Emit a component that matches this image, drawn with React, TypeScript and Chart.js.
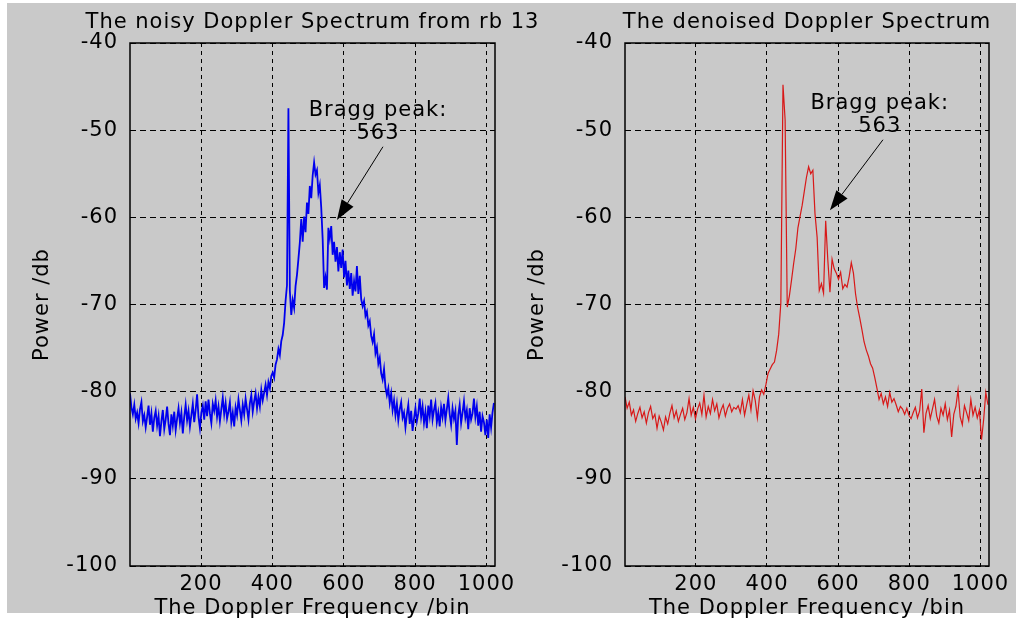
import { useEffect, useRef } from "react";
import { Chart, registerables } from "chart.js";

Chart.register(...registerables);

// Spectrum values in dB. The noisy spectrum is sampled every 4 bins, the denoised one every 6 bins.
const noisyBinStep = 4;
const noisyPower = [
  -80.2, -81.8, -82.6, -81.5, -83.1, -82.4, -83.6, -82.0, -81.2, -83.4,
  -82.7, -84.1, -82.9, -81.6, -83.8, -82.5, -84.6, -83.0, -82.2, -83.9,
  -82.8, -85.1, -83.4, -82.1, -84.3, -83.2, -81.7, -83.7, -85.0, -82.6,
  -83.9, -82.3, -84.4, -83.1, -81.9, -83.6, -82.4, -84.8, -82.9, -81.5,
  -83.3, -82.2, -84.0, -82.7, -81.4, -83.5, -82.1, -80.3, -82.9, -84.2,
  -82.4, -81.6, -83.2, -81.1, -82.8, -80.9, -82.5, -83.6, -81.4, -82.2,
  -81.0, -82.9, -81.7, -83.4, -82.0, -80.7, -82.6, -81.3, -83.1, -82.3,
  -81.2, -83.5, -82.4, -84.0, -81.8, -82.7, -80.9, -82.1, -83.3, -81.5,
  -82.6, -80.8, -82.0, -83.2, -81.3, -80.4, -82.3, -81.1, -80.2, -81.9,
  -80.6, -81.7, -79.8, -81.0, -80.1, -79.2, -80.4, -78.9, -79.6, -78.2,
  -77.8, -78.4, -76.9, -76.3, -75.1, -75.8, -74.2, -73.5, -72.1, -69.6,
  -67.8, -47.5, -68.4, -71.2, -69.5, -70.4, -67.9, -66.6, -64.8, -62.9,
  -60.2, -62.8, -59.9, -61.7, -58.3, -59.6, -56.4, -57.8, -55.2, -53.7,
  -55.1, -54.6, -57.2, -56.3, -58.9, -62.5, -68.1, -66.9, -68.3, -61.2,
  -62.4, -61.0, -64.3, -62.8, -65.1, -63.4, -66.2, -64.0, -65.8, -63.7,
  -66.9, -65.0, -67.8, -66.1, -68.2, -66.4, -69.0, -67.3, -68.5, -65.6,
  -68.8, -66.7, -69.4, -70.2, -69.6, -71.3, -70.8, -72.4, -71.9, -73.6,
  -74.3, -73.4, -75.6, -74.9, -76.8, -76.1, -77.9, -78.6, -77.4, -79.5,
  -80.4, -79.6, -81.3, -80.2, -82.1, -81.0, -82.7, -81.4, -83.3, -82.0,
  -81.2, -83.0, -82.4, -84.1, -82.6, -81.5, -83.7, -82.2, -84.5, -83.1,
  -81.9, -83.4, -82.5, -80.8, -82.9, -81.7, -83.6, -82.3, -84.2, -81.6,
  -82.8, -80.9, -83.2, -82.1, -81.3, -83.5, -82.4, -84.0, -81.8, -82.9,
  -81.4, -83.3, -82.0, -80.7, -82.6, -83.8, -81.9, -83.1, -82.2, -86.1,
  -82.7, -81.5, -83.6, -82.4, -81.1, -83.0, -82.1, -84.3, -81.9, -83.2,
  -82.5, -80.8, -82.9, -81.7, -83.9, -82.3, -84.6, -82.8, -83.5, -85.0,
  -83.2, -85.3, -82.6, -84.1, -82.4, -81.3,
];

const denoisedBinStep = 6;
const denoisedPower = [
  -80.6, -81.9, -81.2, -82.7, -82.1, -83.4, -82.5, -81.8, -83.0, -82.3,
  -83.6, -82.4, -81.7, -83.1, -82.6, -84.2, -82.8, -83.5, -84.4, -82.9,
  -83.7, -82.5, -81.6, -83.0, -82.2, -83.4, -82.6, -81.9, -83.2, -82.4,
  -80.8, -82.7, -81.8, -83.1, -82.0, -81.3, -82.6, -80.4, -82.9, -81.7,
  -82.5, -80.9, -82.2, -81.4, -83.0, -82.1, -81.5, -82.8, -81.9, -81.4,
  -82.3, -81.8, -82.0, -81.6, -82.4, -80.9, -82.7, -81.5, -80.4, -82.1,
  -79.9, -81.0, -83.0, -80.6, -79.8, -80.3, -79.2, -77.9, -77.4, -76.9,
  -76.6, -75.3, -73.4, -69.8, -44.8, -48.8, -70.3, -69.0, -67.2, -65.3,
  -63.6, -61.2, -59.9, -58.6, -57.0, -55.4, -54.2, -55.0, -54.6, -59.6,
  -62.3, -68.4, -67.6, -68.7, -60.4, -64.9, -68.6, -64.8, -65.9, -66.4,
  -67.1, -66.3, -68.2, -67.7, -68.0, -66.8, -65.2, -66.4, -68.8, -70.4,
  -71.6, -72.9, -74.3, -75.2, -75.9, -76.8, -77.3, -78.4, -79.6, -80.9,
  -80.2, -81.4, -80.6, -81.7, -80.1, -81.2, -80.8, -81.5, -82.3, -81.7,
  -82.0, -82.6, -81.9, -82.7, -83.1, -82.4, -81.8, -83.0, -82.2, -79.7,
  -84.7, -82.5, -81.6, -83.1, -82.0, -80.9, -82.8, -83.6, -81.9, -82.7,
  -81.4, -83.2, -82.1, -85.2, -82.6, -81.7, -79.8, -82.9, -83.8, -81.6,
  -82.4, -83.3, -80.9, -82.7, -81.8, -83.0, -82.1, -85.5, -83.2, -80.1, -81.5,
];

const frequencyTicks = [200, 400, 600, 800, 1000];
const powerTicks = [-100, -90, -80, -70, -60, -50, -40];
const braggLines = ["Bragg peak:", "563"];

const FONT_FAMILY = '"DejaVu Sans", sans-serif';
const TEXT_SIZE = 21;
const textFont = { family: FONT_FAMILY, size: TEXT_SIZE, weight: "normal" as const };

const toPoints = (values: number[], step: number) =>
  values.map((y, i) => ({ x: 1 + i * step, y }));

// Slightly wider text spacing for every label drawn on the canvas.
const wideText = {
  id: "wideText",
  beforeDraw(chart: any) {
    chart.ctx.letterSpacing = "1px";
  },
};

// Panel heading centred over the plotting area, drawn at its natural width.
const panelHeading = {
  id: "panelHeading",
  afterDraw(chart: any, _args: any, opts: any) {
    if (!opts || !opts.text) return;
    const { ctx, chartArea: a } = chart;
    ctx.save();
    ctx.letterSpacing = "1px";
    ctx.font = `${TEXT_SIZE}px ${FONT_FAMILY}`;
    ctx.fillStyle = "#000";
    ctx.textAlign = "center";
    ctx.textBaseline = "middle";
    ctx.fillText(opts.text, (a.left + a.right) / 2, a.top - opts.gap);
    ctx.restore();
  },
};

// Solid frame around the plotting area.
const plotFrame = {
  id: "plotFrame",
  afterDraw(chart: any) {
    const { ctx, chartArea: a } = chart;
    ctx.save();
    ctx.strokeStyle = "#000";
    ctx.lineWidth = 1.5;
    ctx.strokeRect(a.left, a.top, a.right - a.left, a.bottom - a.top);
    ctx.restore();
  },
};

// Text note with an arrow pointing at the Bragg peak.
const braggNote = {
  id: "braggNote",
  afterDatasetsDraw(chart: any, _args: any, opts: any) {
    if (!opts || !opts.lines) return;
    const { ctx } = chart;
    const xs = chart.scales.x;
    const ys = chart.scales.y;
    ctx.save();
    ctx.letterSpacing = "1px";
    ctx.font = `${TEXT_SIZE}px ${FONT_FAMILY}`;
    ctx.fillStyle = "#000";
    ctx.textAlign = "center";
    ctx.textBaseline = "middle";
    const tx = xs.getPixelForValue(opts.textBin);
    const ty = ys.getPixelForValue(opts.textPower);
    opts.lines.forEach((line: string, i: number) => ctx.fillText(line, tx, ty + i * opts.lineGap));

    const x0 = xs.getPixelForValue(opts.tailBin);
    const y0 = ys.getPixelForValue(opts.tailPower);
    const x1 = xs.getPixelForValue(opts.headBin);
    const y1 = ys.getPixelForValue(opts.headPower);
    const ang = Math.atan2(y1 - y0, x1 - x0);
    const len = 20;
    const half = 7;
    const bx = x1 - len * Math.cos(ang);
    const by = y1 - len * Math.sin(ang);
    ctx.strokeStyle = "#000";
    ctx.lineWidth = 1;
    ctx.beginPath();
    ctx.moveTo(x0, y0);
    ctx.lineTo(bx, by);
    ctx.stroke();
    ctx.beginPath();
    ctx.moveTo(x1, y1);
    ctx.lineTo(bx + half * Math.sin(ang), by - half * Math.cos(ang));
    ctx.lineTo(bx - half * Math.sin(ang), by + half * Math.cos(ang));
    ctx.closePath();
    ctx.fill();
    ctx.restore();
  },
};

type PanelSpec = {
  title: string;
  values: number[];
  step: number;
  color: string;
  width: number;
  padLeft: number;
  padRight: number;
  note: {
    textBin: number;
    textPower: number;
    tailBin: number;
    tailPower: number;
    headBin: number;
    headPower: number;
  };
};

function buildConfig(spec: PanelSpec): any {
  return {
    type: "line",
    data: {
      datasets: [
        {
          data: toPoints(spec.values, spec.step),
          borderColor: spec.color,
          borderWidth: spec.width,
          pointRadius: 0,
          tension: 0,
          fill: false,
        },
      ],
    },
    plugins: [wideText, braggNote, plotFrame, panelHeading],
    options: {
      animation: false,
      responsive: false,
      maintainAspectRatio: false,
      events: [],
      layout: { padding: { left: spec.padLeft, right: spec.padRight, top: 43, bottom: 0 } },
      plugins: {
        legend: { display: false },
        tooltip: { enabled: false },
        title: { display: false },
        panelHeading: { text: spec.title, gap: 20 },
        braggNote: { lines: braggLines, lineGap: 23, ...spec.note },
      },
      scales: {
        x: {
          type: "linear",
          min: 1,
          max: 1024,
          afterBuildTicks: (s: any) => {
            s.ticks = frequencyTicks.map((v) => ({ value: v }));
          },
          afterFit: (s: any) => {
            s.height = 57;
            s.paddingLeft = 0;
            s.paddingRight = 0;
          },
          ticks: {
            color: "#000",
            font: textFont,
            padding: 6,
            maxRotation: 0,
            autoSkip: false,
            callback: (v: any) => String(v),
          },
          grid: { color: "#000", lineWidth: 1, drawTicks: false },
          border: { display: false, dash: [4, 4] },
          title: {
            display: true,
            text: "The Doppler Frequency /bin",
            color: "#000",
            font: textFont,
            padding: { top: 0, bottom: 1.4 },
          },
        },
        y: {
          type: "linear",
          min: -100,
          max: -40,
          afterBuildTicks: (s: any) => {
            s.ticks = powerTicks.map((v) => ({ value: v }));
          },
          afterFit: (s: any) => {
            s.width = 100;
            s.paddingTop = 0;
            s.paddingBottom = 0;
          },
          ticks: {
            color: "#000",
            font: textFont,
            padding: 12,
            autoSkip: false,
            callback: (v: any) => String(v),
          },
          grid: { color: "#000", lineWidth: 1, drawTicks: false },
          border: { display: false, dash: [6, 4] },
          title: {
            display: true,
            text: "Power /db",
            color: "#000",
            font: textFont,
            padding: { top: 0, bottom: 0 },
          },
        },
      },
    },
  };
}

const noisyPanel: PanelSpec = {
  title: "The noisy Doppler Spectrum from rb 13",
  values: noisyPower,
  step: noisyBinStep,
  color: "#0000ee",
  width: 1.8,
  padLeft: 30,
  padRight: 45,
  note: { textBin: 696, textPower: -47.7, tailBin: 710, tailPower: -51.9, headBin: 581, headPower: -60.3 },
};

const denoisedPanel: PanelSpec = {
  title: "The denoised Doppler Spectrum",
  values: denoisedPower,
  step: denoisedBinStep,
  color: "#d81818",
  width: 1.2,
  padLeft: 49,
  padRight: 27,
  note: { textBin: 717, textPower: -47.0, tailBin: 726, tailPower: -51.1, headBin: 577, headPower: -59.2 },
};

function SpectrumPanel({ spec, left }: { spec: PanelSpec; left: number }) {
  const ref = useRef<HTMLCanvasElement | null>(null);
  useEffect(() => {
    if (!ref.current) return;
    const chart = new Chart(ref.current, buildConfig(spec));
    return () => chart.destroy();
  }, [spec]);
  return (
    <canvas
      ref={ref}
      width={540}
      height={623}
      style={{ position: "absolute", left, top: 0, width: 540, height: 623 }}
    />
  );
}

export default function App() {
  return (
    <div
      style={{
        position: "fixed",
        left: 0,
        top: 0,
        width: 1016,
        height: 623,
        background: "#ffffff",
        overflow: "hidden",
      }}
    >
      <div
        style={{
          position: "absolute",
          left: 7,
          top: 3,
          width: 1009,
          height: 610,
          background: "#c9c9c9",
        }}
      />
      <SpectrumPanel spec={noisyPanel} left={0} />
      <SpectrumPanel spec={denoisedPanel} left={476} />
    </div>
  );
}
